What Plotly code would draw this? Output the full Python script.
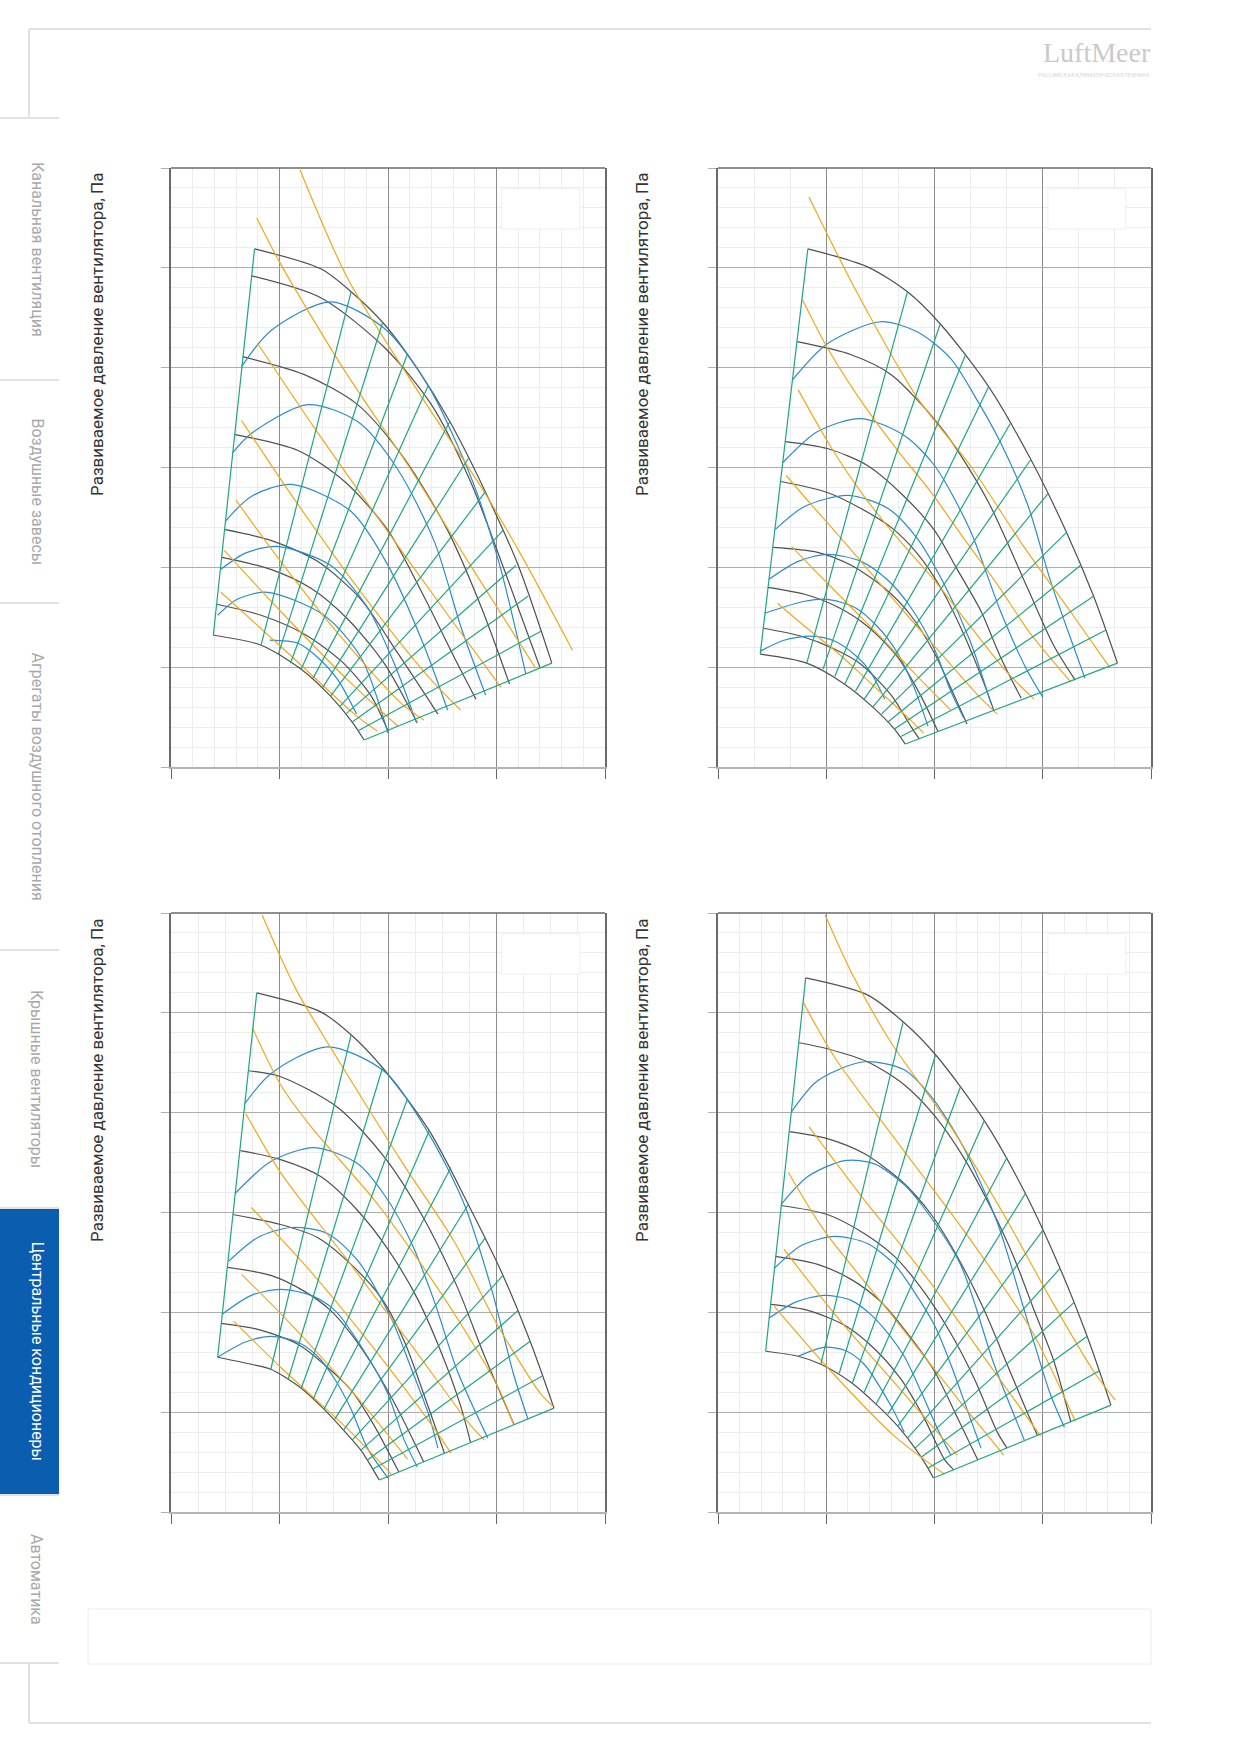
import plotly.graph_objects as go

W, H = 1239, 1752

# цвета линий
C_BLACK = "#505050"
C_BLUE = "#2a8ccc"
C_ORANGE = "#f0a81c"
C_GREEN = "#1ea584"

Y_TITLE = "Развиваемое давление вентилятора, Па"
TABS = ["Канальная вентиляция", "Воздушные завесы", "Агрегаты воздушного отопления",
        "Крышные вентиляторы", "Центральные кондиционеры", "Автоматика"]
ACTIVE_TAB = 4
LOGO = "LuftMeer"
LOGO_SUB = "РОССИЙСКАЯ КЛИМАТИЧЕСКАЯ ТЕХНИКА"

# шаг мелкой сетки по расходу для каждого графика
X_MINOR = [0.2, 1 / 3, 0.25, 0.2]

# ---------------- график 1 (верх, слева)
UL_BLACK = [
    [(0.77, 5.19), (1.38, 4.99), (1.66, 4.76), (1.97, 4.43), (2.27, 3.99), (2.58, 3.44), (2.90, 2.75), (3.20, 2.02), (3.51, 1.04)],
    [(0.74, 4.92), (1.38, 4.70), (1.97, 4.20), (2.40, 3.63), (2.76, 2.86), (3.07, 1.98), (3.40, 1.00)],
    [(0.66, 4.11), (1.23, 3.93), (1.72, 3.63), (2.15, 3.09), (2.55, 2.37), (2.86, 1.60), (3.12, 0.83)],
    [(0.59, 3.33), (1.17, 3.17), (1.60, 2.86), (2.00, 2.37), (2.33, 1.71), (2.61, 1.10), (2.81, 0.68)],
    [(0.49, 2.38), (0.92, 2.27), (1.35, 2.06), (1.75, 1.68), (2.09, 1.14), (2.46, 0.53)],
    [(0.47, 2.10), (0.92, 1.98), (1.29, 1.79), (1.63, 1.48), (1.97, 1.03), (2.27, 0.44)],
    [(0.42, 1.63), (0.83, 1.52), (1.23, 1.33), (1.57, 1.06), (1.84, 0.72), (2.00, 0.36)],
    [(0.39, 1.32), (0.83, 1.22), (1.20, 0.98), (1.47, 0.71), (1.67, 0.45), (1.78, 0.27)],
]
UL_BLUE = [
    [(0.65, 4.01), (0.92, 4.37), (1.47, 4.66), (1.97, 4.39), (2.37, 3.82), (2.78, 2.86), (3.03, 2.02), (3.27, 0.93)],
    [(0.57, 3.15), (0.74, 3.34), (1.26, 3.63), (1.72, 3.46), (2.09, 2.98), (2.43, 2.25), (2.67, 1.41), (2.90, 0.72)],
    [(0.50, 2.46), (0.74, 2.71), (1.11, 2.83), (1.66, 2.56), (2.00, 2.02), (2.33, 1.22), (2.55, 0.57)],
    [(0.46, 1.98), (0.68, 2.14), (0.98, 2.21), (1.47, 2.02), (1.81, 1.60), (2.06, 1.03), (2.26, 0.45)],
    [(0.43, 1.52), (0.61, 1.68), (0.89, 1.75), (1.41, 1.52), (1.75, 1.10), (2.00, 0.34)],
    [(0.91, 1.27), (1.17, 1.24), (1.35, 1.10), (1.54, 0.87), (1.71, 0.53)],
]
UL_ORANGE = [
    [(1.19, 5.98), (1.63, 4.89), (2.29, 3.74), (2.89, 2.75), (3.26, 2.06), (3.70, 1.17)],
    [(0.79, 5.50), (1.01, 5.04), (1.60, 3.97), (2.21, 2.98), (2.76, 2.02), (3.36, 0.99)],
    [(0.80, 4.24), (1.32, 3.40), (1.97, 2.40), (2.58, 1.48), (3.04, 0.80)],
    [(0.65, 3.47), (1.17, 2.63), (1.78, 1.71), (2.40, 0.87), (2.67, 0.57)],
    [(0.60, 2.67), (1.01, 2.06), (1.60, 1.26), (2.12, 0.64), (2.33, 0.47)],
    [(0.49, 2.17), (1.01, 1.56), (1.63, 0.87), (2.09, 0.41)],
    [(0.46, 1.75), (1.08, 1.14), (1.69, 0.53), (1.90, 0.36)],
]
UL_GREEN_FROM = [(0.83, 1.22), (0.99, 1.13), (1.10, 1.04), (1.20, 0.98), (1.31, 0.89), (1.40, 0.80),
                 (1.47, 0.71), (1.55, 0.60), (1.61, 0.53), (1.67, 0.45), (1.72, 0.36), (1.78, 0.27)]
UL_GREEN_TO = [(1.66, 4.76), (1.95, 4.45), (2.18, 4.14), (2.37, 3.82), (2.57, 3.46), (2.74, 3.09),
               (2.90, 2.76), (3.06, 2.37), (3.18, 2.02), (3.29, 1.71), (3.41, 1.36), (3.51, 1.04)]

# ---------------- график 2 (верх, справа)
UR_BLACK = [
    [(0.83, 5.19), (1.38, 5.01), (1.75, 4.76), (2.06, 4.43), (2.50, 3.81), (2.89, 3.08), (3.22, 2.35), (3.47, 1.71), (3.69, 1.04)],
    [(0.73, 4.26), (1.23, 4.13), (1.60, 3.93), (2.09, 3.36), (2.49, 2.67), (2.86, 1.79), (3.10, 1.22), (3.30, 0.87)],
    [(0.62, 3.26), (1.01, 3.19), (1.38, 3.02), (1.72, 2.71), (2.00, 2.37), (2.21, 1.98), (2.43, 1.56), (2.61, 1.10), (2.80, 0.69)],
    [(0.58, 2.86), (1.01, 2.75), (1.32, 2.59), (1.60, 2.40), (1.84, 2.14), (2.06, 1.79), (2.27, 1.33), (2.46, 0.83), (2.55, 0.56)],
    [(0.51, 2.20), (0.92, 2.15), (1.23, 2.02), (1.54, 1.79), (1.78, 1.52), (2.00, 1.14), (2.18, 0.72), (2.30, 0.43)],
    [(0.46, 1.80), (0.80, 1.73), (1.11, 1.60), (1.38, 1.41), (1.66, 1.10), (1.87, 0.72), (2.03, 0.36)],
    [(0.42, 1.39), (0.77, 1.31), (1.08, 1.18), (1.32, 1.03), (1.60, 0.72), (1.78, 0.41), (1.86, 0.28)],
    [(0.39, 1.13), (0.82, 1.04), (1.17, 0.83), (1.43, 0.60), (1.63, 0.38), (1.73, 0.23)],
]
UR_BLUE = [
    [(0.69, 3.88), (1.01, 4.24), (1.50, 4.46), (1.84, 4.36), (2.15, 4.09), (2.38, 3.70), (2.61, 3.25), (2.86, 2.63), (3.07, 1.87), (3.23, 1.37), (3.39, 0.89)],
    [(0.60, 3.05), (0.92, 3.36), (1.32, 3.49), (1.72, 3.32), (2.00, 3.02), (2.33, 2.37), (2.61, 1.56), (2.84, 1.00), (3.00, 0.70)],
    [(0.53, 2.38), (0.80, 2.61), (1.20, 2.72), (1.57, 2.59), (1.84, 2.29), (2.09, 1.83), (2.33, 1.26), (2.52, 0.64)],
    [(0.47, 1.88), (0.74, 2.06), (1.01, 2.13), (1.32, 2.06), (1.57, 1.87), (1.78, 1.60), (2.00, 1.18), (2.15, 0.76), (2.27, 0.49)],
    [(0.43, 1.54), (0.80, 1.66), (1.01, 1.68), (1.26, 1.60), (1.47, 1.41), (1.66, 1.14), (1.81, 0.80), (1.94, 0.41)],
    [(0.39, 1.16), (0.61, 1.27), (0.86, 1.31), (1.08, 1.26), (1.29, 1.10), (1.41, 0.95), (1.54, 0.68)],
]
UR_ORANGE = [
    [(0.84, 5.71), (1.29, 4.74), (1.84, 3.70), (2.33, 3.02), (2.83, 2.20), (3.26, 1.55), (3.61, 1.01)],
    [(0.78, 4.68), (1.01, 4.20), (1.32, 3.67), (1.66, 3.17), (1.97, 2.75), (2.27, 2.29), (2.58, 1.83), (2.89, 1.33), (3.26, 0.85)],
    [(0.74, 3.78), (1.04, 3.21), (1.35, 2.71), (1.66, 2.29), (2.00, 1.87), (2.33, 1.41), (2.67, 0.95), (2.92, 0.68)],
    [(0.63, 2.92), (0.86, 2.63), (1.17, 2.25), (1.47, 1.87), (1.78, 1.48), (2.09, 1.10), (2.40, 0.72), (2.58, 0.53)],
    [(0.68, 2.21), (0.92, 1.94), (1.23, 1.60), (1.54, 1.26), (1.84, 0.91), (2.15, 0.57)],
    [(0.55, 1.64), (0.80, 1.41), (1.11, 1.14), (1.38, 0.87), (1.72, 0.53), (1.90, 0.34)],
]
UR_GREEN_FROM = [(0.82, 1.04), (0.97, 0.98), (1.08, 0.91), (1.17, 0.83), (1.27, 0.76), (1.35, 0.68),
                 (1.43, 0.60), (1.51, 0.53), (1.57, 0.45), (1.63, 0.38), (1.68, 0.30), (1.73, 0.23)]
UR_GREEN_TO = [(1.75, 4.76), (2.05, 4.43), (2.29, 4.14), (2.50, 3.81), (2.70, 3.44), (2.89, 3.08),
               (3.05, 2.74), (3.22, 2.35), (3.35, 2.02), (3.47, 1.71), (3.58, 1.37), (3.69, 1.04)]

# ---------------- график 3 (низ, слева)
LL_BLACK = [
    [(0.79, 5.20), (1.38, 5.01), (1.66, 4.78), (1.95, 4.45), (2.38, 3.82), (2.74, 3.08), (3.06, 2.37), (3.31, 1.71), (3.53, 1.04)],
    [(0.71, 4.42), (1.01, 4.36), (1.54, 4.05), (1.97, 3.55), (2.33, 2.94), (2.64, 2.25), (2.89, 1.56), (3.16, 0.88)],
    [(0.64, 3.62), (1.01, 3.53), (1.38, 3.36), (1.72, 3.02), (2.00, 2.63), (2.27, 2.14), (2.49, 1.60), (2.67, 1.06), (2.76, 0.70)],
    [(0.57, 2.98), (1.01, 2.88), (1.35, 2.75), (1.66, 2.48), (1.94, 2.14), (2.15, 1.71), (2.33, 1.18), (2.52, 0.59)],
    [(0.52, 2.45), (0.92, 2.37), (1.23, 2.21), (1.47, 2.02), (1.67, 1.77), (1.87, 1.45), (2.09, 1.03), (2.33, 0.50)],
    [(0.46, 1.89), (0.80, 1.83), (1.17, 1.68), (1.41, 1.48), (1.66, 1.22), (1.87, 0.87), (2.10, 0.40)],
    [(0.43, 1.55), (0.74, 1.48), (0.92, 1.43), (1.20, 1.24), (1.41, 1.03), (1.59, 0.82), (1.75, 0.62), (1.86, 0.43), (1.92, 0.32)],
]
LL_BLUE = [
    [(0.68, 4.09), (0.92, 4.39), (1.44, 4.66), (1.97, 4.41), (2.38, 3.78), (2.70, 3.09), (2.95, 2.25), (3.16, 1.37), (3.29, 0.93)],
    [(0.59, 3.19), (0.92, 3.51), (1.32, 3.65), (1.72, 3.49), (1.97, 3.17), (2.21, 2.71), (2.43, 2.10), (2.64, 1.41), (2.92, 0.74)],
    [(0.53, 2.51), (0.80, 2.75), (1.11, 2.85), (1.44, 2.79), (1.72, 2.52), (2.03, 1.94), (2.21, 1.45), (2.37, 0.99), (2.46, 0.64)],
    [(0.47, 1.98), (0.74, 2.17), (1.01, 2.23), (1.29, 2.17), (1.51, 2.02), (1.81, 1.56), (2.00, 1.18), (2.15, 0.72), (2.27, 0.45)],
    [(0.43, 1.55), (0.68, 1.70), (0.92, 1.76), (1.17, 1.70), (1.35, 1.56), (1.51, 1.33), (1.66, 1.03), (1.81, 0.64), (2.00, 0.34)],
]
LL_ORANGE = [
    [(0.84, 5.98), (1.15, 5.24), (1.66, 4.32), (2.15, 3.47), (2.61, 2.71), (3.01, 1.87), (3.41, 1.18), (3.52, 1.06)],
    [(0.75, 4.85), (1.01, 4.28), (1.29, 3.86), (1.90, 3.09), (2.52, 2.14), (3.01, 1.26), (3.16, 0.87)],
    [(0.69, 3.99), (1.01, 3.40), (1.60, 2.56), (2.21, 1.68), (2.76, 0.87), (2.89, 0.72)],
    [(0.74, 3.05), (1.23, 2.48), (1.84, 1.68), (2.43, 0.83), (2.58, 0.59)],
    [(0.65, 2.38), (1.08, 1.91), (1.69, 1.18), (2.18, 0.53)],
    [(0.58, 1.91), (1.01, 1.45), (1.63, 0.83), (2.03, 0.38)],
]
LL_GREEN_FROM = [(0.92, 1.43), (1.08, 1.33), (1.20, 1.24), (1.31, 1.13), (1.41, 1.03), (1.51, 0.93),
                 (1.59, 0.82), (1.67, 0.72), (1.75, 0.62), (1.81, 0.52), (1.86, 0.43), (1.92, 0.32)]
LL_GREEN_TO = [(1.66, 4.78), (1.95, 4.45), (2.18, 4.14), (2.38, 3.82), (2.58, 3.45), (2.74, 3.08),
               (2.90, 2.75), (3.06, 2.37), (3.20, 2.02), (3.31, 1.71), (3.42, 1.36), (3.53, 1.04)]

# ---------------- график 4 (низ, справа)
LR_BLACK = [
    [(0.81, 5.35), (1.38, 5.18), (1.71, 4.91), (2.01, 4.58), (2.46, 3.92), (2.84, 3.19), (3.16, 2.44), (3.41, 1.76), (3.63, 1.07)],
    [(0.75, 4.70), (1.01, 4.64), (1.38, 4.51), (1.72, 4.28), (2.00, 3.97), (2.27, 3.55), (2.52, 3.05), (2.73, 2.56), (2.92, 2.02), (3.10, 1.52), (3.26, 0.90)],
    [(0.66, 3.81), (1.01, 3.74), (1.35, 3.59), (1.69, 3.32), (1.97, 2.98), (2.21, 2.56), (2.46, 2.02), (2.67, 1.48), (2.86, 0.99), (2.95, 0.77)],
    [(0.58, 3.07), (1.01, 2.98), (1.35, 2.79), (1.63, 2.56), (1.90, 2.21), (2.15, 1.79), (2.37, 1.33), (2.58, 0.80), (2.67, 0.64)],
    [(0.53, 2.56), (0.92, 2.48), (1.23, 2.33), (1.51, 2.10), (1.75, 1.79), (2.00, 1.41), (2.21, 0.95), (2.40, 0.52)],
    [(0.49, 2.08), (0.83, 2.02), (1.17, 1.87), (1.44, 1.64), (1.69, 1.33), (1.90, 0.95), (2.09, 0.53), (2.18, 0.42)],
    [(0.44, 1.61), (0.74, 1.56), (0.95, 1.48), (1.24, 1.29), (1.46, 1.08), (1.66, 0.86), (1.82, 0.64), (1.94, 0.44), (1.99, 0.34)],
]
LR_BLUE = [
    [(0.68, 4.01), (0.92, 4.32), (1.35, 4.51), (1.72, 4.43), (1.97, 4.16), (2.26, 3.67), (2.58, 2.90), (2.83, 2.02), (3.07, 1.18), (3.20, 0.85)],
    [(0.59, 3.09), (0.83, 3.36), (1.17, 3.52), (1.44, 3.49), (1.72, 3.28), (1.90, 3.05), (2.24, 2.48), (2.55, 1.48), (2.83, 0.72)],
    [(0.52, 2.44), (0.77, 2.67), (1.08, 2.76), (1.38, 2.69), (1.63, 2.48), (1.81, 2.21), (2.00, 1.87), (2.15, 1.48), (2.30, 1.03), (2.43, 0.64)],
    [(0.47, 1.94), (0.71, 2.10), (0.98, 2.17), (1.23, 2.12), (1.41, 1.98), (1.57, 1.79), (1.72, 1.56), (1.87, 1.22), (2.03, 0.83), (2.15, 0.57)],
    [(0.74, 1.56), (0.98, 1.65), (1.17, 1.62), (1.35, 1.48), (1.60, 1.06), (1.72, 0.80)],
]
LR_ORANGE = [
    [(0.99, 5.98), (1.23, 5.41), (1.60, 4.70), (2.15, 3.86), (2.64, 2.98), (3.07, 2.14), (3.47, 1.41), (3.67, 1.12)],
    [(0.79, 5.10), (1.08, 4.55), (1.66, 3.70), (2.27, 2.82), (2.89, 1.83), (3.30, 0.91)],
    [(0.84, 3.86), (1.32, 3.17), (1.94, 2.33), (2.55, 1.41), (2.98, 0.76)],
    [(0.65, 3.40), (0.98, 2.82), (1.60, 1.98), (2.21, 1.14), (2.64, 0.57)],
    [(0.61, 2.63), (1.08, 1.98), (1.69, 1.22), (2.21, 0.57)],
    [(0.52, 2.06), (1.01, 1.45), (1.63, 0.76), (2.09, 0.38)],
]
LR_GREEN_FROM = [(0.95, 1.48), (1.12, 1.39), (1.24, 1.29), (1.35, 1.20), (1.46, 1.08), (1.57, 0.98),
                 (1.66, 0.86), (1.75, 0.74), (1.82, 0.64), (1.88, 0.55), (1.94, 0.44), (1.99, 0.34)]
LR_GREEN_TO = [(1.71, 4.91), (2.01, 4.58), (2.24, 4.26), (2.46, 3.92), (2.67, 3.55), (2.84, 3.19),
               (3.00, 2.82), (3.16, 2.44), (3.29, 2.10), (3.41, 1.76), (3.53, 1.42), (3.63, 1.07)]

CHARTS = [
    (UL_BLACK, UL_BLUE, UL_ORANGE, UL_GREEN_FROM, UL_GREEN_TO),
    (UR_BLACK, UR_BLUE, UR_ORANGE, UR_GREEN_FROM, UR_GREEN_TO),
    (LL_BLACK, LL_BLUE, LL_ORANGE, LL_GREEN_FROM, LL_GREEN_TO),
    (LR_BLACK, LR_BLUE, LR_ORANGE, LR_GREEN_FROM, LR_GREEN_TO),
]

# положение графиков на странице, px: лево, право, верх, низ
BOXES = [(171, 605, 168, 767), (718, 1151, 168, 767),
         (171, 605, 913, 1512), (718, 1151, 913, 1512)]
TITLE_POS = [(97, 335), (642, 335), (97, 1081), (642, 1081)]
TAB_SEPS = [118, 380, 603, 950, 1208, 1495, 1663]


def px_x(v):
    return v / W


def px_y(v):
    return 1 - v / H


def curve(pts, color, xa, ya, shape="spline"):
    return go.Scatter(
        x=[p[0] for p in pts], y=[p[1] for p in pts], mode="lines",
        line=dict(color=color, width=1.2, shape=shape, smoothing=0.8),
        xaxis=xa, yaxis=ya, hoverinfo="skip", showlegend=False)


fig = go.Figure()
axes = {}
shapes = []
annotations = []

for i, (black, blue, orange, g_from, g_to) in enumerate(CHARTS):
    n = "" if i == 0 else str(i + 1)
    xa, ya = "x" + n, "y" + n
    left, right, top, bottom = BOXES[i]
    axes["xaxis" + n] = dict(
        domain=[px_x(left), px_x(right)], range=[0, 4], anchor=ya,
        tick0=0, dtick=1, showticklabels=False, ticks="outside", ticklen=10,
        tickcolor="#666666", tickwidth=1,
        showgrid=True, gridcolor="#8c8c8c", gridwidth=1, zeroline=False,
        showline=True, linecolor="#b4b4b4", linewidth=2,
        minor=dict(tick0=0, dtick=X_MINOR[i], showgrid=True, gridcolor="#ececec", gridwidth=1, ticks=""),
        fixedrange=True)
    axes["yaxis" + n] = dict(
        domain=[px_y(bottom), px_y(top)], range=[0, 6], anchor=xa,
        tick0=0, dtick=1, showticklabels=False, ticks="outside", ticklen=8,
        tickcolor="#b0b0b0", tickwidth=1,
        showgrid=True, gridcolor="#adadad", gridwidth=1, zeroline=False,
        showline=True, linecolor="#6a6a6a", linewidth=1.5, mirror=True,
        minor=dict(tick0=0, dtick=0.2, showgrid=True, gridcolor="#ececec", gridwidth=1, ticks=""),
        fixedrange=True)

    for c in black:
        fig.add_trace(curve(c, C_BLACK, xa, ya))
    for c in blue:
        fig.add_trace(curve(c, C_BLUE, xa, ya))
    for c in orange:
        fig.add_trace(curve(c, C_ORANGE, xa, ya))
    # левая граница и сетка рабочих точек
    fig.add_trace(curve([black[0][0], black[-1][0]], C_GREEN, xa, ya, "linear"))
    for a, b in zip(g_from, g_to):
        fig.add_trace(curve([a, b], C_GREEN, xa, ya, "linear"))

    # верхняя рамка
    shapes.append(dict(type="line", xref=xa + " domain", yref=ya + " domain",
                       x0=0, x1=1, y0=1, y1=1, line=dict(color="#6a6a6a", width=1.5)))
    # пустая рамка легенды
    shapes.append(dict(type="rect", xref=xa + " domain", yref=ya + " domain",
                       x0=0.762, x1=0.942, y0=0.898, y1=0.965,
                       fillcolor="white", line=dict(color="#efefef", width=1)))

    tx, ty = TITLE_POS[i]
    annotations.append(dict(text=Y_TITLE, x=px_x(tx), y=px_y(ty), xref="paper", yref="paper",
                            textangle=-90, showarrow=False, xanchor="center", yanchor="middle",
                            font=dict(family="Roboto", size=17, color="#333333")))

# рамка страницы
FRAME = "#e2e2e2"
for x0, y0, x1, y1 in [(29, 29, 1151, 29), (29, 29, 29, 118), (29, 1723, 1151, 1723), (29, 1663, 29, 1723)]:
    shapes.append(dict(type="line", xref="paper", yref="paper",
                       x0=px_x(x0), y0=px_y(y0), x1=px_x(x1), y1=px_y(y1),
                       line=dict(color=FRAME, width=2)))

# боковое меню
shapes.append(dict(type="rect", xref="paper", yref="paper",
                   x0=0, x1=px_x(59), y0=px_y(TAB_SEPS[ACTIVE_TAB + 1]), y1=px_y(TAB_SEPS[ACTIVE_TAB]),
                   fillcolor="#0b5db0", line=dict(width=0), layer="below"))
for s in TAB_SEPS:
    shapes.append(dict(type="line", xref="paper", yref="paper",
                       x0=0, x1=px_x(59), y0=px_y(s), y1=px_y(s),
                       line=dict(color=FRAME, width=2)))
for k, t in enumerate(TABS):
    mid = (TAB_SEPS[k] + TAB_SEPS[k + 1]) / 2
    annotations.append(dict(text=t, x=px_x(37), y=px_y(mid), xref="paper", yref="paper",
                            textangle=90, showarrow=False, xanchor="center", yanchor="middle",
                            font=dict(family="Roboto", size=16,
                                      color="white" if k == ACTIVE_TAB else "#a8a8a8")))

# нижняя пустая плашка
shapes.append(dict(type="rect", xref="paper", yref="paper",
                   x0=px_x(88), x1=px_x(1151), y0=px_y(1664), y1=px_y(1609),
                   line=dict(color="#ececec", width=1), fillcolor="rgba(0,0,0,0)"))

# логотип
annotations.append(dict(text=LOGO, x=px_x(1153), y=px_y(53), xref="paper", yref="paper",
                        showarrow=False, xanchor="right", yanchor="middle",
                        font=dict(family="Liberation Serif", size=28, color="#cacaca")))
annotations.append(dict(text=LOGO_SUB, x=px_x(1152), y=px_y(75), xref="paper", yref="paper",
                        showarrow=False, xanchor="right", yanchor="middle",
                        font=dict(family="Roboto", size=5.5, color="#d6d6d6")))

fig.update_layout(
    width=W, height=H, autosize=False,
    margin=dict(l=0, r=0, t=0, b=0),
    paper_bgcolor="white", plot_bgcolor="white",
    showlegend=False, shapes=shapes, annotations=annotations,
    **axes)

# убрать стандартный отступ страницы и панель инструментов
fig.write_html("out.html", config={"displayModeBar": False},
               post_script="document.body.style.margin='0px';")
